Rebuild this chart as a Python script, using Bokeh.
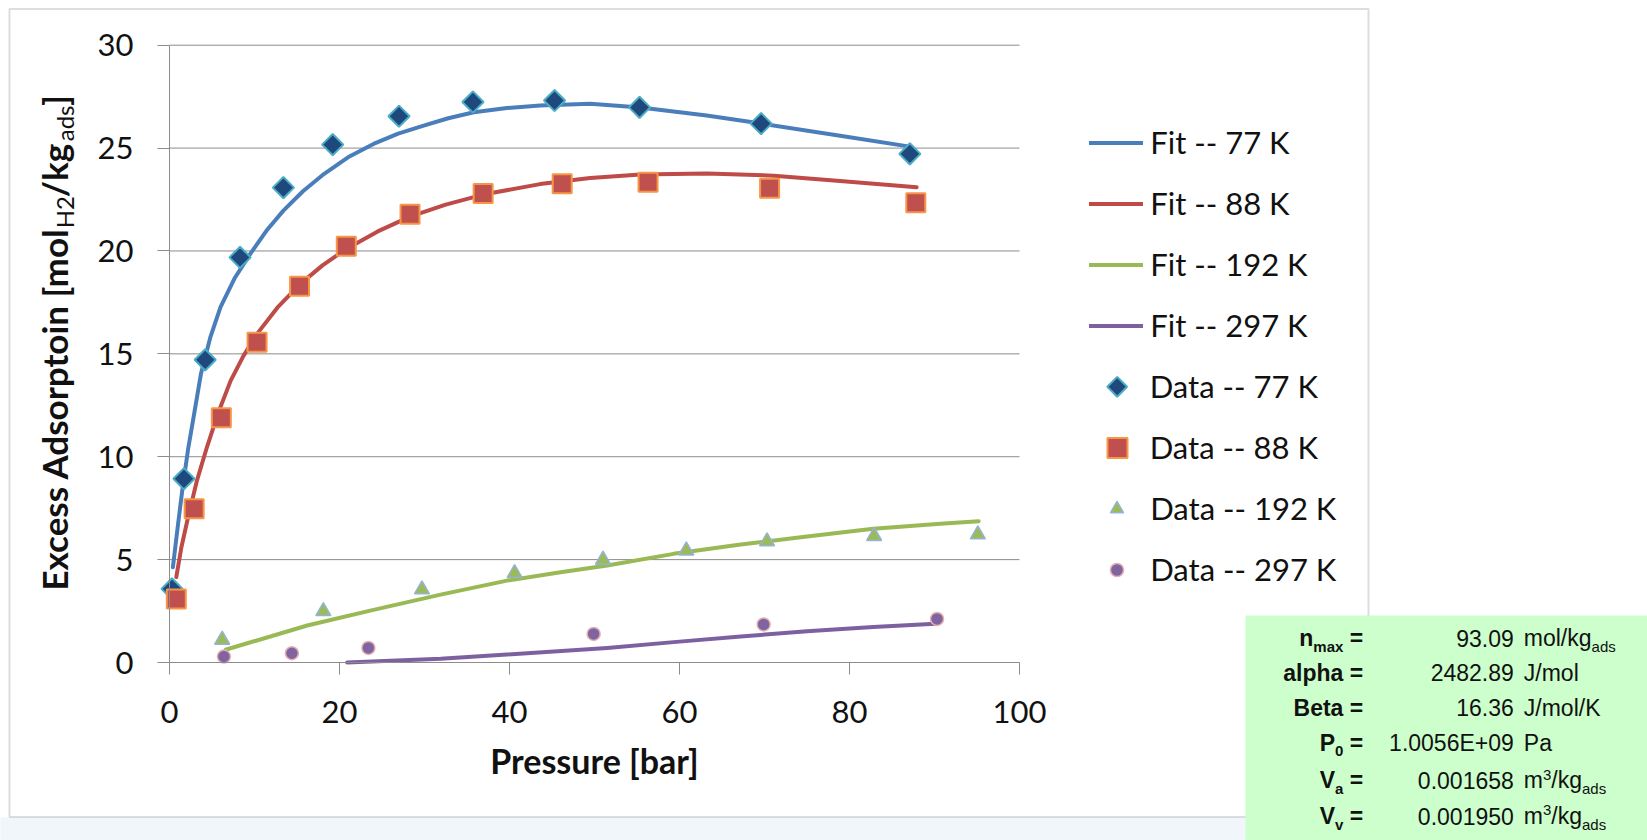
from math import pi
from bokeh.plotting import figure
from bokeh.core.properties import value
from bokeh.models import Range1d, FixedTicker, Legend, LegendItem, Label, BoxAnnotation
from bokeh.embed import file_html
from bokeh.resources import INLINE

# ---------------- data ----------------
p77 = [0.3, 1.7, 4.2, 8.3, 13.4, 19.2, 27.0, 35.7, 45.3, 55.3, 69.6, 87.1]
n77 = [3.58, 8.93, 14.71, 19.69, 23.08, 25.17, 26.55, 27.24, 27.31, 26.98, 26.19, 24.72]
p88 = [0.8, 2.9, 6.1, 10.3, 15.3, 20.8, 28.3, 36.9, 46.2, 56.3, 70.6, 87.8]
n88 = [3.09, 7.47, 11.89, 15.56, 18.29, 20.23, 21.78, 22.79, 23.27, 23.34, 23.05, 22.34]
p192 = [6.2, 18.1, 29.7, 40.6, 51.0, 60.8, 70.3, 82.9, 95.1]
n192 = [1.10, 2.49, 3.55, 4.34, 4.99, 5.44, 5.88, 6.14, 6.22]
p297 = [6.4, 14.4, 23.4, 49.9, 69.9, 90.3]
n297 = [0.29, 0.45, 0.71, 1.39, 1.85, 2.12]

fit77_p = [0.4, 1.0, 1.5, 2.2, 2.9, 3.7, 4.8, 6.0, 7.7, 9.5, 11.4, 13.4, 15.7, 18.2, 21.0, 24.0, 26.9, 29.9,
           32.8, 35.8, 39.7, 43.6, 49.5, 55.4, 63.2, 69.6, 78.9, 87.1]
fit77_n = [4.63, 6.70, 8.36, 10.40, 12.08, 14.03, 15.80, 17.27, 18.70, 19.86, 20.98, 21.96, 22.90, 23.75,
           24.55, 25.20, 25.70, 26.09, 26.45, 26.74, 26.95, 27.07, 27.15, 26.97, 26.58, 26.19, 25.60, 25.07]
fit88_p = [0.8, 1.4, 2.1, 3.2, 4.4, 5.7, 7.2, 8.7, 10.3, 12.8, 15.4, 18.0, 20.8, 24.5, 28.3, 32.5, 36.9,
           43.6, 49.5, 55.4, 63.2, 71.1, 78.9, 87.9]
fit88_n = [4.15, 5.60, 6.90, 8.80, 10.46, 12.10, 13.70, 14.90, 15.97, 17.30, 18.40, 19.30, 20.10, 20.95,
           21.67, 22.25, 22.74, 23.25, 23.55, 23.72, 23.76, 23.66, 23.40, 23.10]
fit192_p = [6.6, 16.2, 24.0, 31.9, 39.7, 46.0, 51.5, 59.3, 67.2, 75.0, 82.8, 90.7, 95.2]
fit192_n = [0.62, 1.80, 2.56, 3.30, 3.98, 4.39, 4.71, 5.28, 5.73, 6.12, 6.50, 6.74, 6.87]
fit297_p = [20.9, 31.9, 39.7, 51.5, 59.3, 67.2, 75.0, 82.8, 90.1]
fit297_n = [0.00, 0.18, 0.39, 0.71, 0.99, 1.26, 1.52, 1.72, 1.88]

series_names = ["77 K", "88 K", "192 K", "297 K"]
x_ticks = [0, 20, 40, 60, 80, 100]
y_ticks = [0, 5, 10, 15, 20, 25, 30]

x_title = "Pressure [bar]"
y_title_parts = [("Excess Adsorptoin [mol", "main"), ("H2", "sub"), ("/kg", "main"),
                 ("ads", "sub"), ("]", "main")]

param_names = ["n", "alpha", "Beta", "P", "V", "V"]
param_subs = ["max", "", "", "0", "a", "v"]
param_values = ["93.09", "2482.89", "16.36", "1.0056E+09", "0.001658", "0.001950"]
param_units = [
    [("mol/kg", ""), ("ads", "sub")],
    [("J/mol", "")],
    [("J/mol/K", "")],
    [("Pa", "")],
    [("m", ""), ("3", "sup"), ("/kg", ""), ("ads", "sub")],
    [("m", ""), ("3", "sup"), ("/kg", ""), ("ads", "sub")],
]

# ---------------- styling / layout ----------------
C_LINE = ["#4a7ebb", "#be4b48", "#98b954", "#7d60a0"]
GRID = "#8c8c8c"
TXT = "#111111"
FONT = "Lato"
TFONT = "Liberation Sans"

W, H = 1647, 840
# position of the plotting area (x 0..100, y 0..30) on the canvas, in pixels
AX_L, AX_R, AX_T, AX_B = 169.0, 1019.0, 44.7, 662.0
XS = (AX_R - AX_L) / 100.0
YS = (AX_B - AX_T) / 30.0
BASE_K = 0.41   # baseline correction for Label text (fraction of font size)
ROT_K = 0.49    # baseline correction for rotated text glyphs (fraction of font size)


def DX(px):
    return (px - AX_L) / XS


def DY(py):
    return (AX_B - py) / YS


# the frame spans the whole canvas; axes are pinned at x=0 / y=0
p = figure(width=W, height=H, output_backend="svg", toolbar_location=None,
           x_range=Range1d(DX(0), DX(W)), y_range=Range1d(DY(H), DY(0)),
           min_border=0, min_border_left=0, min_border_right=0,
           min_border_top=0, min_border_bottom=0)
p.title.visible = False
p.outline_line_color = None
p.background_fill_color = "white"
p.border_fill_color = "white"
p.xgrid.visible = False
p.ygrid.visible = False

for ax in (p.xaxis[0], p.yaxis[0]):
    ax.fixed_location = 0
    ax.axis_line_color = GRID
    ax.major_tick_line_color = GRID
    ax.major_tick_out = 12
    ax.major_tick_in = 0
    ax.minor_tick_out = 0
    ax.minor_tick_in = 0
    ax.major_label_text_font = FONT
    ax.major_label_text_font_size = "31px"
    ax.major_label_text_color = TXT
p.xaxis.ticker = FixedTicker(ticks=x_ticks)
p.yaxis.ticker = FixedTicker(ticks=y_ticks)
p.xaxis.bounds = (x_ticks[0], x_ticks[-1])
p.yaxis.bounds = (y_ticks[0], y_ticks[-1])
p.xaxis.major_label_standoff = 26
p.yaxis.major_label_standoff = 24

# background decorations (under everything)
p.add_layout(BoxAnnotation(left=DX(-10), right=DX(W + 10), top=DY(817), bottom=DY(H + 10),
                           fill_color="#f0f6fa", fill_alpha=1, line_color=None, level="underlay"))
p.add_layout(BoxAnnotation(left=DX(9), right=DX(1368), top=DY(8.5), bottom=DY(816.5),
                           fill_color="white", fill_alpha=1, line_color="#8f8f8f", line_width=2,
                           level="underlay"))

# horizontal gridlines across the data range
p.segment(x0=[x_ticks[0]] * len(y_ticks), x1=[x_ticks[-1]] * len(y_ticks), y0=y_ticks, y1=y_ticks,
          line_color=GRID, line_width=1)

# fit lines
fits = [(fit77_p, fit77_n), (fit88_p, fit88_n), (fit192_p, fit192_n), (fit297_p, fit297_n)]
line_r = []
for (fx, fy), c in zip(fits, C_LINE):
    line_r.append(p.line(fx, fy, line_color=c, line_width=4, line_cap="round", line_join="round"))

# data markers
M77 = dict(marker="square", angle=pi / 4, fill_color="#1f497d", line_color="#4bacc6", line_width=2)
r77 = p.scatter(p77, n77, size=15, **M77)
r88 = p.scatter(p88, n88, marker="square", size=19, fill_color="#c0504d",
                line_color="#f79646", line_width=2)
r192 = p.scatter(p192, n192, marker="triangle", size=15, fill_color="#9bbb59",
                 line_color="#95b3d7", line_width=1.5)
r297 = p.scatter(p297, n297, marker="circle", size=13, fill_color="#8064a2",
                 line_color="#e6b0ae", line_width=1.5)
# legend proxy for the 77 K data (legend keys ignore marker rotation, key drawn below)
r77_key = p.scatter(x=[], y=[], marker="square", fill_alpha=0, line_alpha=0)


# legends (positions are canvas pixels: left edge and bottom edge of each block)
def make_legend(items, gw, left_px, bottom_px, standoff):
    lg = Legend(items=items, location=(left_px, H - bottom_px), glyph_width=gw, glyph_height=61,
                label_standoff=standoff, spacing=0, padding=0, margin=0,
                label_text_font=FONT, label_text_font_size="31px", label_text_color=TXT,
                border_line_color=None, background_fill_alpha=0)
    p.add_layout(lg, "center")


LEG_X = 1116.7
make_legend([LegendItem(label="Fit -- " + s, renderers=[r]) for s, r in zip(series_names, line_r)],
            54, 1089.3, 355.8, 7)
make_legend([LegendItem(label="Data -- " + series_names[0], renderers=[r77_key]),
             LegendItem(label="Data -- " + series_names[1], renderers=[r88])],
            50, LEG_X - 25, 477.8, 8)
make_legend([LegendItem(label="Data -- " + series_names[2], renderers=[r192]),
             LegendItem(label="Data -- " + series_names[3], renderers=[r297])],
            33, LEG_X - 16.5, 599.8, 17)
# rotated-square key for "Data -- 77 K"
p.scatter(x=[DX(LEG_X)], y=[DY(355.8 + 30.5)], size=14, **M77)

# parameter box
p.add_layout(BoxAnnotation(left=DX(1245), right=DX(W + 10), top=DY(615), bottom=DY(H + 10),
                           fill_color="#ccffcc", fill_alpha=1, line_color=None))


def lab(px, py, text, size, bold=False, font=FONT, align="left", color=TXT):
    """px, py: canvas position of the text's start/end on its baseline."""
    py = py - BASE_K * size
    p.add_layout(Label(x=DX(px), y=DY(py), text=text, text_font=font,
                       text_font_size=f"{size}px", text_font_style="bold" if bold else "normal",
                       text_align=align, text_baseline="alphabetic", text_color=color))


# axis titles
lab(594, 774, x_title, 34, bold=True, align="center")

# rotated y title built from pieces (text glyphs; estimated Lato advance widths, em)
LATO_EM = {"Excess Adsorptoin [mol": 10.35, "H2": 1.29, "/kg": 1.60, "ads": 1.47, "]": 0.30}
ystart = 590.0
for text, kind in y_title_parts:
    size = 35 if kind == "main" else 24
    bx = (71 if kind == "main" else 76) - ROT_K * size   # wanted baseline x, corrected
    p.text(x=[DX(bx)], y=[DY(ystart)], text=[text], angle=pi / 2,
           text_font=value(FONT), text_font_size=value(f"{size}px"),
           text_font_style=value("bold" if kind == "main" else "normal"),
           text_align="left", text_baseline="alphabetic", text_color=TXT)
    ystart -= LATO_EM[text] * size

# parameter table (Arial metrics for Liberation Sans)
AR = {" ": 278, "+": 584, ".": 278, "/": 278, "=": 584, "E": 667, "J": 500, "K": 667, "P": 667,
      "a": 556, "d": 556, "g": 556, "k": 500, "l": 222, "m": 833, "o": 556, "s": 500}
ARB = {" ": 278, "=": 584, "0": 556, "B": 722, "P": 667, "V": 667, "a": 556, "e": 556, "h": 611,
       "l": 278, "m": 889, "n": 611, "p": 611, "t": 333, "v": 556, "x": 556}


def aw(s, size, bold=False):
    t = ARB if bold else AR
    return sum(t.get(c, 556) for c in s) / 1000.0 * size


row_y = [647.3, 681.7, 716.7, 751.7, 789.3, 825.0]
EQ_R, VAL_R, UNIT_L = 1362.7, 1513.3, 1523.3
TS, SS = 23, 15
for name, sub, val, units, y in zip(param_names, param_subs, param_values, param_units, row_y):
    lab(EQ_R, y, "=", TS, bold=True, font=TFONT, align="right")
    xr = EQ_R - aw(" =", TS, True)
    if sub:
        lab(xr, y + 5, sub, SS, bold=True, font=TFONT, align="right")
        xr -= aw(sub, SS, True)
    lab(xr, y, name, TS, bold=True, font=TFONT, align="right")
    lab(VAL_R, y, val, TS, font=TFONT, align="right")
    xl = UNIT_L
    for text, kind in units:
        size = TS if kind == "" else SS
        dy = 5 if kind == "sub" else (-9 if kind == "sup" else 0)
        lab(xl, y + dy, text, size, font=TFONT)
        xl += aw(text, size)

open("out.html", "w").write(file_html(p, INLINE, title="Excess adsorption"))
